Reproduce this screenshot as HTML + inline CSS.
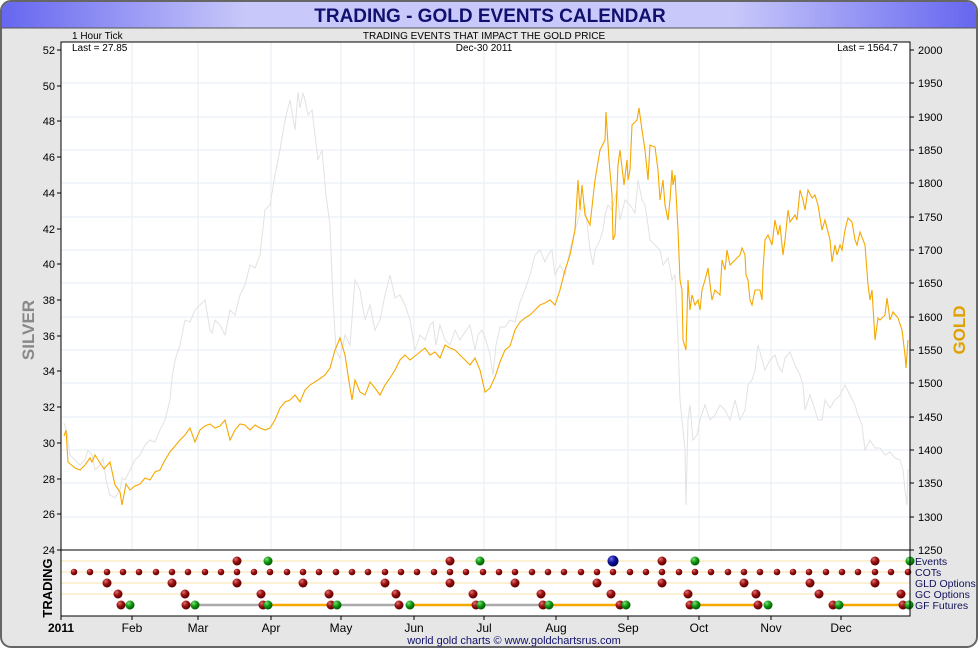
<!DOCTYPE html>
<html><head><meta charset="utf-8"><style>
html,body{margin:0;padding:0;background:#fff;}
body{width:980px;height:650px;overflow:hidden;font-family:"Liberation Sans",sans-serif;}
</style></head><body>
<svg width="980" height="650" xmlns="http://www.w3.org/2000/svg" font-family="Liberation Sans, sans-serif">
<defs>
<linearGradient id="tb" x1="0" x2="1" y1="0" y2="0">
<stop offset="0" stop-color="#6666f0"/><stop offset="0.25" stop-color="#c8c8fa"/><stop offset="0.75" stop-color="#c8c8fa"/><stop offset="1" stop-color="#6666f0"/></linearGradient>
<radialGradient id="rd" cx="0.35" cy="0.3" r="0.7"><stop offset="0" stop-color="#e07070"/><stop offset="0.5" stop-color="#9a1010"/><stop offset="1" stop-color="#5a0000"/></radialGradient>
<radialGradient id="gr" cx="0.35" cy="0.3" r="0.7"><stop offset="0" stop-color="#80e080"/><stop offset="0.5" stop-color="#129a12"/><stop offset="1" stop-color="#005a00"/></radialGradient>
<radialGradient id="bl" cx="0.35" cy="0.3" r="0.7"><stop offset="0" stop-color="#7070e0"/><stop offset="0.5" stop-color="#10109a"/><stop offset="1" stop-color="#00005a"/></radialGradient>
</defs>
<rect x="1" y="1" width="976" height="646" rx="10" fill="#e6e6e6" stroke="#666" stroke-width="2"/>
<path d="M2 11 a9 9 0 0 1 9 -9 H967 a9 9 0 0 1 9 9 V28 H2 Z" fill="url(#tb)"/>
<line x1="2" y1="28" x2="976" y2="28" stroke="#555" stroke-width="1"/>
<text x="490" y="22" text-anchor="middle" font-size="19" font-weight="bold" fill="#10106e">TRADING - GOLD EVENTS CALENDAR</text>
<text x="72" y="39" font-size="10">1 Hour Tick</text>
<text x="484" y="39" text-anchor="middle" font-size="10">TRADING EVENTS THAT IMPACT THE GOLD PRICE</text>
<rect x="61" y="42" width="849" height="574" fill="#fff" stroke="#000" stroke-width="1"/>
<g stroke="#e4eef6" stroke-width="1">
<line x1="132" y1="42" x2="132" y2="616"/><line x1="198" y1="42" x2="198" y2="616"/><line x1="271" y1="42" x2="271" y2="616"/><line x1="341" y1="42" x2="341" y2="616"/><line x1="414" y1="42" x2="414" y2="616"/><line x1="484" y1="42" x2="484" y2="616"/><line x1="556" y1="42" x2="556" y2="616"/><line x1="628" y1="42" x2="628" y2="616"/><line x1="699" y1="42" x2="699" y2="616"/><line x1="771" y1="42" x2="771" y2="616"/><line x1="841" y1="42" x2="841" y2="616"/>
<line x1="61" y1="83" x2="910" y2="83"/><line x1="61" y1="117" x2="910" y2="117"/><line x1="61" y1="150" x2="910" y2="150"/><line x1="61" y1="183" x2="910" y2="183"/><line x1="61" y1="217" x2="910" y2="217"/><line x1="61" y1="250" x2="910" y2="250"/><line x1="61" y1="283" x2="910" y2="283"/><line x1="61" y1="317" x2="910" y2="317"/><line x1="61" y1="350" x2="910" y2="350"/><line x1="61" y1="383" x2="910" y2="383"/><line x1="61" y1="417" x2="910" y2="417"/><line x1="61" y1="450" x2="910" y2="450"/><line x1="61" y1="483" x2="910" y2="483"/><line x1="61" y1="517" x2="910" y2="517"/>
</g>
<text x="72" y="51" font-size="10">Last = 27.85</text>
<text x="484" y="51" text-anchor="middle" font-size="10">Dec-30  2011</text>
<text x="898" y="51" text-anchor="end" font-size="10">Last = 1564.7</text>
<g font-size="11" fill="#000" text-anchor="end">
<text x="55" y="54">52</text><text x="55" y="90">50</text><text x="55" y="125">48</text><text x="55" y="161">46</text><text x="55" y="197">44</text><text x="55" y="233">42</text><text x="55" y="268">40</text><text x="55" y="304">38</text><text x="55" y="340">36</text><text x="55" y="375">34</text><text x="55" y="411">32</text><text x="55" y="447">30</text><text x="55" y="483">28</text><text x="55" y="518">26</text><text x="55" y="554">24</text>
</g>
<g stroke="#000" stroke-width="1">
<line x1="57" y1="50" x2="61" y2="50"/><line x1="57" y1="86" x2="61" y2="86"/><line x1="57" y1="121" x2="61" y2="121"/><line x1="57" y1="157" x2="61" y2="157"/><line x1="57" y1="193" x2="61" y2="193"/><line x1="57" y1="229" x2="61" y2="229"/><line x1="57" y1="264" x2="61" y2="264"/><line x1="57" y1="300" x2="61" y2="300"/><line x1="57" y1="336" x2="61" y2="336"/><line x1="57" y1="371" x2="61" y2="371"/><line x1="57" y1="407" x2="61" y2="407"/><line x1="57" y1="443" x2="61" y2="443"/><line x1="57" y1="479" x2="61" y2="479"/><line x1="57" y1="514" x2="61" y2="514"/><line x1="57" y1="550" x2="61" y2="550"/>
<line x1="910" y1="50" x2="914" y2="50"/><line x1="910" y1="83" x2="914" y2="83"/><line x1="910" y1="117" x2="914" y2="117"/><line x1="910" y1="150" x2="914" y2="150"/><line x1="910" y1="183" x2="914" y2="183"/><line x1="910" y1="217" x2="914" y2="217"/><line x1="910" y1="250" x2="914" y2="250"/><line x1="910" y1="283" x2="914" y2="283"/><line x1="910" y1="317" x2="914" y2="317"/><line x1="910" y1="350" x2="914" y2="350"/><line x1="910" y1="383" x2="914" y2="383"/><line x1="910" y1="417" x2="914" y2="417"/><line x1="910" y1="450" x2="914" y2="450"/><line x1="910" y1="483" x2="914" y2="483"/><line x1="910" y1="517" x2="914" y2="517"/><line x1="910" y1="550" x2="914" y2="550"/>
</g>
<g font-size="11" fill="#000">
<text x="918" y="54">2000</text><text x="918" y="87">1950</text><text x="918" y="121">1900</text><text x="918" y="154">1850</text><text x="918" y="187">1800</text><text x="918" y="221">1750</text><text x="918" y="254">1700</text><text x="918" y="287">1650</text><text x="918" y="321">1600</text><text x="918" y="354">1550</text><text x="918" y="387">1500</text><text x="918" y="421">1450</text><text x="918" y="454">1400</text><text x="918" y="487">1350</text><text x="918" y="521">1300</text><text x="918" y="554">1250</text>
</g>
<text transform="translate(34,330) rotate(-90)" text-anchor="middle" font-size="17" font-weight="bold" fill="#888">SILVER</text>
<text transform="translate(965,330) rotate(-90)" text-anchor="middle" font-size="17" font-weight="bold" fill="#e0a000">GOLD</text>
<polyline fill="none" stroke="#e2e2e2" stroke-width="1" points="64,423 67,433 70,455 75,460 80,465 85,460 88,450 92,455 95,470 100,465 103,458 106,480 110,495 115,498 120,490 122,478 125,480 130,470 135,460 140,455 145,445 150,440 155,442 160,430 165,420 170,400 172,378 175,360 180,345 185,320 190,322 195,310 200,305 205,300 210,330 212,333 215,320 220,325 225,335 230,310 235,315 240,295 245,285 250,265 255,268 260,255 265,210 270,205 275,175 280,150 285,120 290,100 295,130 298,92 300,108 303,93 305,100 308,115 312,110 318,160 322,150 326,195 330,225 333,300 336,350 340,358 345,335 350,345 355,280 360,290 365,320 370,305 375,330 380,320 385,295 390,275 395,298 400,295 405,305 410,320 415,350 420,335 425,340 430,325 433,322 436,345 440,325 445,340 450,345 455,330 460,340 465,332 470,325 475,350 478,335 482,330 486,340 490,355 493,375 496,345 500,327 505,327 510,320 515,322 520,302 525,290 530,275 535,255 540,250 545,262 548,255 552,250 555,275 560,265 565,275 570,250 575,230 578,220 580,212 585,205 590,250 593,265 595,250 600,240 603,230 605,215 608,205 612,210 617,190 620,220 625,200 630,205 635,213 638,180 642,200 645,205 648,225 650,240 655,245 660,250 663,265 668,258 672,280 675,275 678,340 680,400 683,430 685,450 686,505 688,420 690,405 693,440 697,435 700,420 705,405 710,420 715,415 720,405 725,410 730,420 735,400 740,420 745,410 748,385 752,380 755,370 758,345 760,352 765,370 770,360 775,355 778,365 782,372 785,358 790,352 795,365 800,375 803,385 805,410 810,395 815,410 818,420 822,420 825,400 830,408 835,400 840,395 845,385 850,395 855,405 858,415 862,425 865,450 870,440 875,448 880,448 885,455 890,452 895,458 900,460 903,470 905,490 907,505 908,470 910,470"/>
<polyline fill="none" stroke="#f5a800" stroke-width="1.1" points="64,436 66,430 68,462 75,468 80,470 85,465 90,458 92,462 95,455 100,463 104,469 110,462 115,485 120,492 122,505 126,484 130,490 135,486 140,484 145,478 150,480 155,472 160,470 165,460 170,452 175,446 180,440 185,435 190,428 195,442 200,430 205,426 210,424 215,428 220,426 225,420 230,440 235,430 240,424 245,425 250,430 255,425 260,428 265,430 270,428 275,420 280,408 285,402 290,400 295,395 300,402 305,390 310,385 318,380 325,375 330,368 335,350 340,338 345,355 348,375 352,400 355,380 360,392 365,395 370,382 375,388 380,395 385,385 390,378 395,370 400,360 405,355 410,360 415,356 420,352 425,348 430,355 435,352 440,358 445,345 450,348 455,350 460,355 465,360 470,365 475,358 480,370 485,392 490,388 495,377 500,362 505,350 510,346 515,330 520,322 525,318 530,315 535,310 540,305 545,303 550,300 555,305 560,290 565,270 570,255 575,230 578,180 580,210 582,185 585,215 590,225 595,180 600,150 605,140 606,112 609,160 612,195 613,240 615,235 618,165 620,150 624,185 627,160 628,180 630,170 632,125 637,120 639,108 642,130 645,150 648,180 650,145 655,147 658,170 660,200 663,180 665,205 668,220 670,200 672,170 673,185 675,175 678,230 680,280 682,290 683,340 686,350 688,280 690,310 692,295 695,305 698,300 700,310 702,290 705,280 708,268 712,300 715,290 720,295 722,260 725,270 727,250 730,265 735,260 740,255 742,248 745,255 746,275 748,280 750,300 752,305 755,290 760,290 762,300 763,270 765,240 768,235 772,245 775,220 778,235 780,225 783,255 785,240 788,210 790,222 795,215 797,220 800,190 803,200 805,210 808,190 812,198 815,195 818,205 822,230 825,220 830,240 832,262 835,245 837,255 840,245 842,250 845,230 848,218 852,222 855,240 857,245 860,232 865,245 868,285 870,300 872,290 875,340 878,318 880,320 885,315 887,298 890,320 893,312 898,318 902,330 905,355 906,368 908,340"/>
<rect x="62" y="551" width="847" height="64" fill="#fff"/>
<line x1="61" y1="550" x2="910" y2="550" stroke="#555" stroke-width="1.5"/>
<g stroke="#fbe3a8" stroke-width="1"><line x1="61" y1="561" x2="910" y2="561"/><line x1="61" y1="572" x2="910" y2="572"/><line x1="61" y1="583" x2="910" y2="583"/><line x1="61" y1="594" x2="910" y2="594"/></g>
<g stroke-width="2.5" fill="none">
<line x1="196" y1="605" x2="263" y2="605" stroke="#aaa"/><line x1="268" y1="605" x2="331" y2="605" stroke="#f5a800"/><line x1="337" y1="605" x2="399" y2="605" stroke="#aaa"/><line x1="410" y1="605" x2="476" y2="605" stroke="#f5a800"/><line x1="481" y1="605" x2="543" y2="605" stroke="#aaa"/><line x1="549" y1="605" x2="620" y2="605" stroke="#f5a800"/><line x1="696" y1="605" x2="758" y2="605" stroke="#f5a800"/><line x1="839" y1="605" x2="903" y2="605" stroke="#f5a800"/>
</g>
<g fill="url(#rd)">
<circle cx="74" cy="572" r="3.3"/><circle cx="90" cy="572" r="3.3"/><circle cx="107" cy="572" r="3.3"/><circle cx="123" cy="572" r="3.3"/><circle cx="139" cy="572" r="3.3"/><circle cx="156" cy="572" r="3.3"/><circle cx="172" cy="572" r="3.3"/><circle cx="188" cy="572" r="3.3"/><circle cx="205" cy="572" r="3.3"/><circle cx="221" cy="572" r="3.3"/><circle cx="237" cy="572" r="3.3"/><circle cx="254" cy="572" r="3.3"/><circle cx="270" cy="572" r="3.3"/><circle cx="287" cy="572" r="3.3"/><circle cx="303" cy="572" r="3.3"/><circle cx="319" cy="572" r="3.3"/><circle cx="336" cy="572" r="3.3"/><circle cx="352" cy="572" r="3.3"/><circle cx="368" cy="572" r="3.3"/><circle cx="385" cy="572" r="3.3"/><circle cx="401" cy="572" r="3.3"/><circle cx="417" cy="572" r="3.3"/><circle cx="434" cy="572" r="3.3"/><circle cx="450" cy="572" r="3.3"/><circle cx="466" cy="572" r="3.3"/><circle cx="483" cy="572" r="3.3"/><circle cx="499" cy="572" r="3.3"/><circle cx="515" cy="572" r="3.3"/><circle cx="532" cy="572" r="3.3"/><circle cx="548" cy="572" r="3.3"/><circle cx="564" cy="572" r="3.3"/><circle cx="581" cy="572" r="3.3"/><circle cx="597" cy="572" r="3.3"/><circle cx="613" cy="572" r="3.3"/><circle cx="630" cy="572" r="3.3"/><circle cx="646" cy="572" r="3.3"/><circle cx="662" cy="572" r="3.3"/><circle cx="679" cy="572" r="3.3"/><circle cx="695" cy="572" r="3.3"/><circle cx="711" cy="572" r="3.3"/><circle cx="728" cy="572" r="3.3"/><circle cx="744" cy="572" r="3.3"/><circle cx="760" cy="572" r="3.3"/><circle cx="777" cy="572" r="3.3"/><circle cx="793" cy="572" r="3.3"/><circle cx="809" cy="572" r="3.3"/><circle cx="826" cy="572" r="3.3"/><circle cx="842" cy="572" r="3.3"/><circle cx="858" cy="572" r="3.3"/><circle cx="875" cy="572" r="3.3"/><circle cx="891" cy="572" r="3.3"/><circle cx="908" cy="572" r="3.3"/>
<circle cx="237" cy="561" r="4.5"/><circle cx="450" cy="561" r="4.5"/><circle cx="662" cy="561" r="4.5"/><circle cx="875" cy="561" r="4.5"/>
<circle cx="107" cy="583" r="4.5"/><circle cx="172" cy="583" r="4.5"/><circle cx="237" cy="583" r="4.5"/><circle cx="303" cy="583" r="4.5"/><circle cx="385" cy="583" r="4.5"/><circle cx="450" cy="583" r="4.5"/><circle cx="515" cy="583" r="4.5"/><circle cx="597" cy="583" r="4.5"/><circle cx="662" cy="583" r="4.5"/><circle cx="744" cy="583" r="4.5"/><circle cx="810" cy="583" r="4.5"/><circle cx="875" cy="583" r="4.5"/>
<circle cx="118" cy="594" r="4.5"/><circle cx="185" cy="594" r="4.5"/><circle cx="261" cy="594" r="4.5"/><circle cx="329" cy="594" r="4.5"/><circle cx="396" cy="594" r="4.5"/><circle cx="473" cy="594" r="4.5"/><circle cx="541" cy="594" r="4.5"/><circle cx="611" cy="594" r="4.5"/><circle cx="688" cy="594" r="4.5"/><circle cx="756" cy="594" r="4.5"/><circle cx="819" cy="594" r="4.5"/><circle cx="901" cy="594" r="4.5"/>
<circle cx="121" cy="605" r="4.5"/><circle cx="186" cy="605" r="4.5"/><circle cx="263" cy="605" r="4.5"/><circle cx="331" cy="605" r="4.5"/><circle cx="399" cy="605" r="4.5"/><circle cx="476" cy="605" r="4.5"/><circle cx="543" cy="605" r="4.5"/><circle cx="620" cy="605" r="4.5"/><circle cx="690" cy="605" r="4.5"/><circle cx="758" cy="605" r="4.5"/><circle cx="833" cy="605" r="4.5"/><circle cx="903" cy="605" r="4.5"/>
</g>
<g fill="url(#gr)">
<circle cx="268" cy="561" r="4.5"/><circle cx="480" cy="561" r="4.5"/><circle cx="695" cy="561" r="4.5"/><circle cx="910" cy="561" r="4.5"/>
<circle cx="130" cy="605" r="4.5"/><circle cx="195" cy="605" r="4.5"/><circle cx="268" cy="605" r="4.5"/><circle cx="337" cy="605" r="4.5"/><circle cx="410" cy="605" r="4.5"/><circle cx="481" cy="605" r="4.5"/><circle cx="549" cy="605" r="4.5"/><circle cx="626" cy="605" r="4.5"/><circle cx="696" cy="605" r="4.5"/><circle cx="768" cy="605" r="4.5"/><circle cx="839" cy="605" r="4.5"/><circle cx="909" cy="605" r="4.5"/>
</g>
<circle cx="613" cy="561" r="5.5" fill="url(#bl)"/>
<g font-size="10.5" fill="#10105a">
<text x="915" y="565">Events</text><text x="915" y="576">COTs</text><text x="915" y="587">GLD Options</text><text x="915" y="598">GC Options</text><text x="915" y="609">GF Futures</text>
</g>
<text transform="translate(52,588) rotate(-90)" text-anchor="middle" font-size="13" font-weight="bold" fill="#000">TRADING</text>
<rect x="61" y="42" width="849" height="574" fill="none" stroke="#000" stroke-width="1"/>
<g stroke="#000"><line x1="61" y1="616" x2="61" y2="620"/><line x1="132" y1="616" x2="132" y2="620"/><line x1="198" y1="616" x2="198" y2="620"/><line x1="271" y1="616" x2="271" y2="620"/><line x1="341" y1="616" x2="341" y2="620"/><line x1="414" y1="616" x2="414" y2="620"/><line x1="484" y1="616" x2="484" y2="620"/><line x1="556" y1="616" x2="556" y2="620"/><line x1="628" y1="616" x2="628" y2="620"/><line x1="699" y1="616" x2="699" y2="620"/><line x1="771" y1="616" x2="771" y2="620"/><line x1="841" y1="616" x2="841" y2="620"/></g>
<g font-size="12" fill="#000" text-anchor="middle">
<text x="61" y="632" font-weight="bold">2011</text><text x="132" y="632">Feb</text><text x="198" y="632">Mar</text><text x="271" y="632">Apr</text><text x="341" y="632">May</text><text x="414" y="632">Jun</text><text x="484" y="632">Jul</text><text x="556" y="632">Aug</text><text x="628" y="632">Sep</text><text x="699" y="632">Oct</text><text x="771" y="632">Nov</text><text x="841" y="632">Dec</text>
</g>
<text x="514" y="644" text-anchor="middle" font-size="11" fill="#10106e">world gold charts © www.goldchartsrus.com</text>
</svg>
</body></html>
